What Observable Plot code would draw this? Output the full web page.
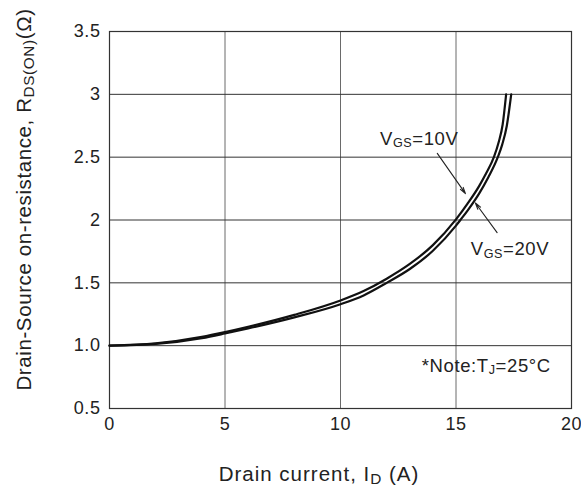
<!DOCTYPE html>
<html>
<head>
<meta charset="utf-8">
<script src="https://cdn.jsdelivr.net/npm/d3@7"></script>
<script src="https://cdn.jsdelivr.net/npm/@observablehq/plot@0.6"></script>
<style>
  html, body { margin: 0; padding: 0; background: #fff; }
  #chart svg text { letter-spacing: 0.6px; }
</style>
</head>
<body>
<div id="chart"></div>
<script>
// ---- data ----
const xTicks = [0, 5, 10, 15, 20];
const xTickLabels = ["0", "5", "10", "15", "20"];
const yTicks = [0.5, 1, 1.5, 2, 2.5, 3, 3.5];
const yTickLabels = ["0.5", "1.0", "1.5", "2", "2.5", "3", "3.5"];

// V_GS = 10V
const id10 = [0, 2, 4, 5, 6, 8, 10, 11, 12, 13, 14, 15, 15.5, 16, 16.3, 16.64, 16.85, 17.02, 17.17];
const r10  = [1.000, 1.018, 1.070, 1.108, 1.150, 1.245, 1.360, 1.435, 1.533, 1.650, 1.800, 2.005, 2.130, 2.270, 2.370, 2.500, 2.620, 2.760, 3.000];
// V_GS = 20V
const id20 = [0, 2, 4, 5, 6, 8, 10, 11, 12, 13, 14, 15, 15.19, 15.5, 16, 16.4, 16.81, 17.0, 17.2, 17.39];
const r20  = [1.000, 1.014, 1.060, 1.097, 1.137, 1.225, 1.330, 1.400, 1.500, 1.610, 1.755, 1.955, 2.000, 2.075, 2.210, 2.340, 2.500, 2.600, 2.750, 3.000];

// annotation arrows (data coordinates: tail -> tip)
const arrowX1 = [14.19, 16.78];
const arrowY1 = [2.53, 1.90];
const arrowX2 = [15.41, 15.84];
const arrowY2 = [2.21, 2.135];

const series10 = id10.map((x, i) => ({x, y: r10[i]}));
const series20 = id20.map((x, i) => ({x, y: r20[i]}));
const arrows = arrowX1.map((x1, i) => ({x1, y1: arrowY1[i], x2: arrowX2[i], y2: arrowY2[i]}));

const FONT = "'Liberation Sans', Arial, Helvetica, sans-serif";

const plot = Plot.plot({
  width: 581,
  height: 490,
  marginLeft: 109,
  marginRight: 10,
  marginTop: 31,
  marginBottom: 82,
  style: {fontFamily: FONT, fontSize: "18px", color: "#222", background: "#fff"},
  x: {domain: [0, 20], label: null},
  y: {domain: [0.5, 3.5], label: null},
  marks: [
    Plot.gridX(xTicks, {stroke: "#6a6a6a", strokeOpacity: 1, strokeWidth: 1}),
    Plot.gridY(yTicks, {stroke: "#333", strokeOpacity: 1, strokeWidth: 1}),
    Plot.frame({stroke: "#333", strokeWidth: 1.2}),
    Plot.axisX({ticks: xTicks, tickSize: 0, tickPadding: 9, label: null,
      tickFormat: d => xTickLabels[xTicks.indexOf(d)], fill: "#222"}),
    Plot.axisY({ticks: yTicks, tickSize: 0, tickPadding: 9, label: null,
      tickFormat: d => yTickLabels[yTicks.indexOf(d)], fill: "#222"}),
    Plot.line(series10, {x: "x", y: "y", curve: "monotone-x", stroke: "#111", strokeWidth: 2.2}),
    Plot.line(series20, {x: "x", y: "y", curve: "monotone-x", stroke: "#111", strokeWidth: 2.2}),
    Plot.arrow(arrows, {x1: "x1", y1: "y1", x2: "x2", y2: "y2", stroke: "#222",
      strokeWidth: 1.1, headLength: 9, headAngle: 30})
  ]
});

document.getElementById("chart").appendChild(plot);

// ---- text with subscripts, positioned through the plot's scales ----
const sx = plot.scale("x"), sy = plot.scale("y");
const svg = d3.select(plot);

function richText(g, parts, size, subRatio, subShift, anchor, spacing) {
  const t = g.append("text")
    .attr("font-family", FONT)
    .attr("font-size", size)
    .attr("text-anchor", anchor)
    .attr("fill", "#222")
    .style("letter-spacing", spacing + "px");
  let shift = 0;
  parts.forEach(([str, sub]) => {
    const target = sub ? subShift : 0;
    t.append("tspan")
      .attr("dy", target - shift)
      .attr("font-size", sub ? size * subRatio : size)
      .text(str);
    shift = target;
  });
  return t;
}

// annotations (data coordinates of the text's left baseline)
const labels = [
  {x: 11.73, y: 2.594, parts: [["V"], ["GS", true], ["=10V"]]},
  {x: 15.66, y: 1.717, parts: [["V"], ["GS", true], ["=20V"]]},
  {x: 13.54, y: 0.787, parts: [["*Note:T"], ["J", true], ["=25°C"]]}
];
labels.forEach(l => {
  const g = svg.append("g").attr("transform", `translate(${sx.apply(l.x)},${sy.apply(l.y)})`);
  richText(g, l.parts, 18.5, 0.68, 2.5, "start", 0.6);
});

// x-axis title
{
  const g = svg.append("g").attr("transform", `translate(${(sx.apply(0) + sx.apply(20)) / 2 - 21},481)`);
  richText(g, [["Drain current, I"], ["D", true], [" (A)"]], 20.5, 0.75, 2.5, "middle", 1.0);
}
// y-axis title
{
  const g = svg.append("g").attr("transform", `translate(31,${(sy.apply(0.5) + sy.apply(3.5)) / 2 - 20}) rotate(-90)`);
  richText(g, [["Drain-Source on-resistance, R"], ["DS(ON)", true], ["(Ω)"]], 20.5, 0.75, 2.5, "middle", 0.6);
}
</script>
</body>
</html>
